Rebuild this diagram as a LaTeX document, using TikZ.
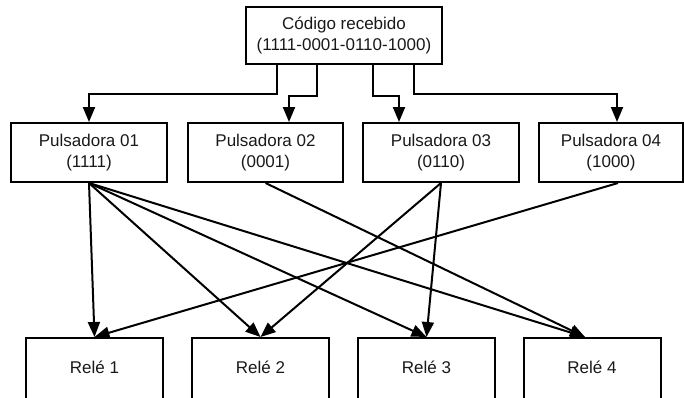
\documentclass[tikz,border=0pt]{standalone}
\usepackage{fontspec}
\setmainfont{Liberation Sans}
\usetikzlibrary{arrows.meta}
\begin{document}
\begin{tikzpicture}[x=1pt,y=-1pt,
  box/.style={draw, line width=2pt, inner sep=0pt, align=center, text=black!90,
    font=\fontsize{17}{20.5}\selectfont},
  pbox/.style={box, minimum width=156pt, minimum height=59pt},
  rbox/.style={box, minimum width=137pt, minimum height=62pt},
  arr/.style={-{Triangle[length=15pt,width=12pt]}, line width=2pt}]
\useasboundingbox (0,0) rectangle (684,397);
\node[box, minimum width=196pt, minimum height=57pt] (top) at (344,35.5) {Código recebido\\(1111-0001-0110-1000)};
\node[pbox] (p1) at (89,152.5) {Pulsadora 01\\(1111)};
\node[pbox, minimum width=155pt] (p2) at (265.5,152.5) {Pulsadora 02\\(0001)};
\node[pbox] (p3) at (441,152.5) {Pulsadora 03\\(0110)};
\node[pbox, minimum width=144pt] (p4) at (611,152.5) {Pulsadora 04\\(1000)};
\node[rbox] (r1) at (94.5,369) {\raisebox{3pt}{Relé 1}};
\node[rbox] (r2) at (260.5,369) {\raisebox{3pt}{Relé 2}};
\node[rbox] (r3) at (426.5,369) {\raisebox{3pt}{Relé 3}};
\node[rbox] (r4) at (592,369) {\raisebox{3pt}{Relé 4}};
% code distribution
\draw[arr] ([xshift=-67pt]top.south) -- ++(0,29) -| (p1.north);
\draw[arr] ([xshift=-27pt]top.south) -- ++(0,31) -| ([xshift=23.5pt]p2.north);
\draw[arr] ([xshift=29pt]top.south) -- ++(0,31) -| ([xshift=-42pt]p3.north);
\draw[arr] ([xshift=70pt]top.south) -- ++(0,29) -| ([xshift=6pt]p4.north);
% relays
\draw[arr] (p1.south) -- (r1.north);
\draw[arr] (p1.south) -- (r2.north);
\draw[arr] (p1.south) -- (r3.north);
\draw[arr] (p1.south) -- ([xshift=-7pt]r4.north);
\draw[arr] (p2.south) -- ([xshift=-7pt]r4.north);
\draw[arr] (p3.south) -- (r2.north);
\draw[arr] (p3.south) -- (r3.north);
\draw[arr] ([xshift=7pt]p4.south) -- (r1.north);
\end{tikzpicture}
\end{document}
